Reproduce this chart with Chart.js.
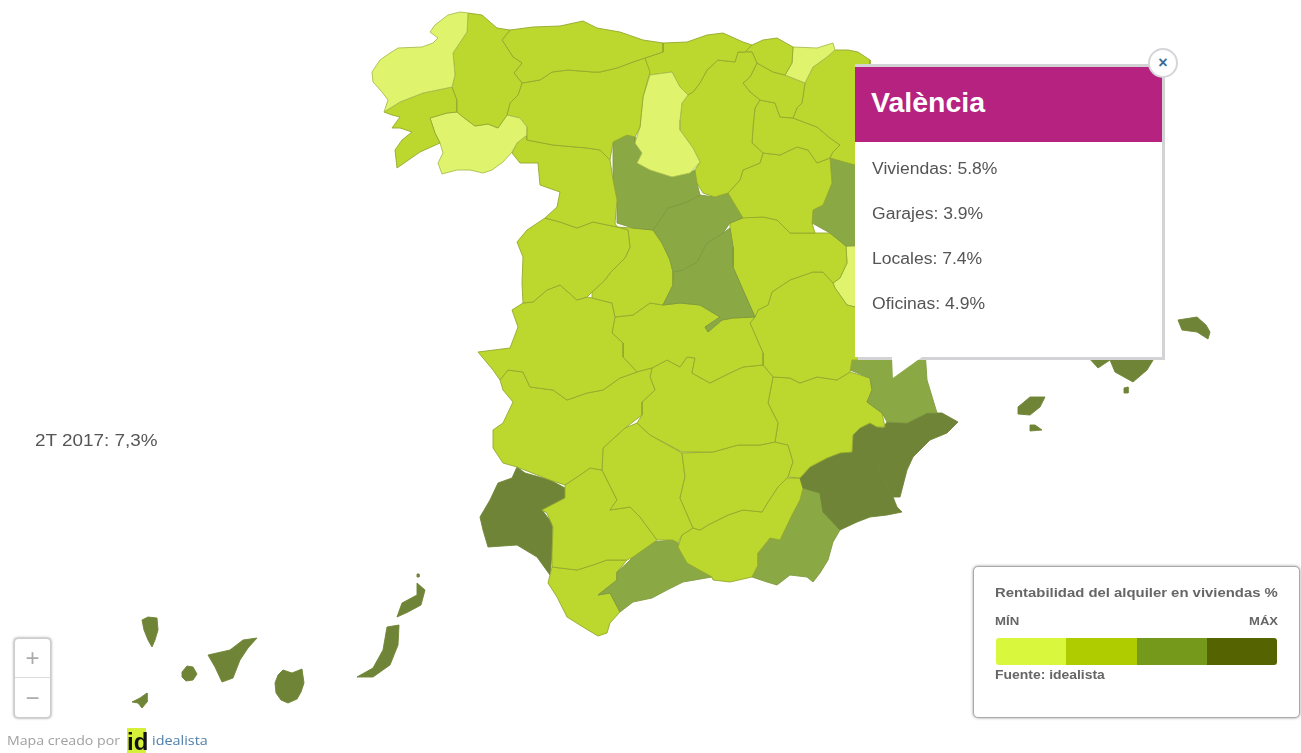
<!DOCTYPE html>
<html><head><meta charset="utf-8">
<script src="https://cdn.jsdelivr.net/npm/chart.js@4/dist/chart.umd.min.js"></script>
<style>
html,body{margin:0;padding:0;background:#fff;width:1301px;height:753px;overflow:hidden;font-family:"Liberation Sans",Arial,sans-serif}
#c{position:absolute;left:0;top:0;filter:blur(.4px)}
.a{position:absolute;white-space:nowrap;transform-origin:left center}
</style></head><body>
<canvas id="c" width="1301" height="753"></canvas>
<div id="ui"></div>
<script>
/* Colour bands of the legend */
const bandNames=["min","low","high","max"];
const bandFill=["#dff46c","#bcd82f","#8aa944","#6f8436"];
const bandLine=["#a9bd4e","#93a92d","#7f9a3e","#6f8436"];
const legendColors=["#d9f73c","#afcc00","#74991b","#556400"];
const legendTitle="Rentabilidad del alquiler en viviendas %";
const popupTitle="València";
const popupLines=["Viviendas: 5.8%","Garajes: 3.9%","Locales: 7.4%","Oficinas: 4.9%"];
const periodLabel="2T 2017: 7,3%";

/* Province outlines in map units */
const coruna=[[468,13],[460,12],[448,15],[435,25],[430,32],[438,38],[433,43],[422,47],[398,48],[390,53],[380,60],[372,72],[373,82],[382,92],[388,100],[384,112],[400,102],[423,93],[452,87],[455,75],[453,53],[467,32]];
const lugo=[[468,13],[482,15],[497,28],[510,30],[502,40],[513,57],[522,63],[514,73],[522,83],[518,95],[510,103],[507,115],[498,128],[488,124],[475,126],[463,117],[457,112],[457,100],[452,87],[455,75],[453,53],[467,32]];
const pontevedra=[[452,87],[457,100],[457,112],[447,113],[430,118],[435,133],[440,143],[420,152],[397,168],[395,150],[402,140],[412,132],[400,128],[392,128],[400,117],[392,115],[384,112],[400,102],[423,93]];
const ourense=[[430,118],[447,113],[457,112],[463,117],[475,126],[488,124],[498,128],[507,115],[520,118],[527,127],[527,135],[517,143],[512,152],[503,162],[492,170],[483,173],[470,170],[457,170],[442,174],[438,163],[443,153],[440,143],[435,133]];
const asturias=[[510,30],[533,27],[560,26],[583,21],[597,28],[620,32],[643,40],[663,43],[663,52],[645,58],[633,62],[617,68],[600,72],[593,72],[568,70],[552,72],[540,80],[522,83],[514,73],[522,63],[513,57],[502,40]];
const leon=[[522,83],[540,80],[552,72],[568,70],[593,72],[600,72],[617,68],[633,62],[645,58],[650,72],[643,97],[640,127],[635,137],[627,135],[613,142],[610,160],[600,150],[587,148],[553,145],[527,140],[527,127],[520,118],[507,115],[510,103],[518,95]];
const palencia=[[650,75],[672,72],[680,87],[688,95],[682,103],[680,120],[680,130],[693,148],[700,162],[690,173],[672,177],[650,170],[637,163],[642,153],[635,143],[640,127],[643,97]];
const zamora=[[527,140],[553,145],[587,148],[600,150],[610,160],[613,180],[617,200],[615,223],[617,227],[593,222],[577,228],[560,222],[545,218],[557,207],[560,192],[540,185],[538,163],[520,163],[512,153],[517,143],[527,135]];
const cantabria=[[663,43],[687,42],[707,35],[723,33],[743,42],[752,45],[745,52],[738,52],[735,62],[718,60],[707,70],[700,83],[693,92],[688,95],[680,87],[672,72],[650,75],[645,58],[663,52]];
const burgos=[[735,62],[738,52],[745,52],[752,52],[757,63],[750,77],[743,83],[750,92],[760,100],[755,108],[753,127],[752,143],[763,153],[760,163],[743,170],[740,180],[728,193],[715,197],[703,193],[697,183],[695,170],[700,162],[693,148],[680,130],[680,120],[682,103],[688,95],[693,92],[700,83],[707,70],[718,60]];
const bizkaia=[[752,45],[763,40],[777,38],[793,47],[792,63],[785,75],[773,72],[757,63],[752,52],[745,52]];
const gipuzkoa=[[793,47],[817,48],[833,43],[835,50],[827,57],[813,67],[805,83],[785,75],[792,63]];
const alava=[[757,63],[773,72],[785,75],[805,83],[802,103],[797,108],[793,118],[780,117],[775,103],[760,100],[750,92],[743,83],[750,77]];
const navarra=[[835,50],[848,50],[858,52],[870,60],[870,165],[855,165],[830,158],[833,152],[840,145],[830,138],[817,127],[793,118],[797,108],[802,103],[805,83],[813,67],[827,57]];
const rioja=[[755,108],[760,100],[775,103],[780,117],[793,118],[817,127],[830,138],[840,145],[833,152],[830,158],[817,163],[808,150],[797,147],[780,155],[763,153],[752,143],[753,127]];
const soria=[[763,153],[780,155],[797,147],[808,150],[817,163],[830,158],[832,183],[823,205],[813,210],[812,223],[815,233],[790,233],[777,220],[763,217],[743,218],[737,208],[728,193],[740,180],[743,170],[760,163]];
const zaragoza=[[830,158],[855,165],[870,165],[870,245],[846,246],[830,233],[812,223],[813,210],[823,205],[832,183]];
const valladolid=[[613,142],[627,135],[635,137],[635,143],[642,153],[637,163],[650,170],[672,177],[690,173],[695,170],[697,183],[700,195],[687,202],[668,208],[662,217],[653,230],[633,228],[617,223],[617,200],[613,180]];
const segovia=[[700,195],[715,197],[728,193],[737,208],[745,217],[730,223],[723,233],[707,243],[697,262],[683,270],[673,272],[670,260],[662,243],[653,230],[662,217],[668,208],[687,202]];
const madrid=[[723,233],[730,228],[733,247],[733,267],[743,290],[755,317],[733,318],[722,320],[708,332],[705,327],[720,317],[700,305],[680,303],[663,305],[673,285],[673,272],[683,270],[697,262],[707,243]];
const salamanca=[[545,218],[560,222],[577,228],[593,222],[617,227],[628,230],[630,247],[625,258],[610,273],[605,280],[592,292],[587,297],[577,300],[560,285],[547,290],[533,302],[523,303],[522,283],[523,257],[517,242],[527,230]];
const avila=[[628,230],[617,227],[633,228],[653,230],[662,243],[670,260],[673,272],[673,285],[663,305],[650,303],[633,315],[615,317],[612,303],[592,298],[592,292],[605,280],[610,273],[625,258],[630,247]];
const caceres=[[523,303],[533,302],[547,290],[560,285],[577,300],[587,297],[592,298],[612,303],[615,317],[612,333],[623,343],[623,357],[637,372],[620,378],[603,390],[587,393],[567,400],[553,390],[530,387],[523,372],[508,370],[500,380],[493,370],[478,352],[510,348],[518,327],[512,310]];
const badajoz=[[500,380],[508,370],[523,372],[530,387],[553,390],[567,400],[587,393],[603,390],[620,378],[637,372],[652,368],[650,377],[655,390],[642,402],[642,415],[625,428],[603,448],[602,470],[590,468],[580,475],[565,485],[550,480],[517,467],[503,463],[493,448],[493,430],[503,423],[513,402],[503,390]];
const toledo=[[615,317],[633,315],[650,303],[663,305],[680,303],[700,305],[720,317],[705,327],[708,332],[722,320],[733,318],[755,317],[750,323],[763,353],[763,365],[743,367],[730,373],[710,383],[692,373],[695,358],[687,357],[680,367],[667,360],[652,368],[637,372],[623,357],[623,343],[612,333]];
const ciudadReal=[[652,368],[667,360],[680,367],[687,357],[695,358],[692,373],[710,383],[730,373],[743,367],[763,365],[773,377],[768,403],[778,423],[775,442],[760,445],[738,445],[713,452],[682,452],[650,435],[637,423],[642,415],[642,402],[655,390],[650,377]];
const guadalajara=[[730,223],[745,217],[763,217],[777,220],[790,233],[815,233],[830,233],[846,246],[847,263],[840,278],[833,283],[823,272],[813,272],[790,280],[772,292],[768,305],[758,310],[755,317],[743,290],[733,267],[733,247],[730,228]];
const cuenca=[[755,317],[758,310],[768,305],[772,292],[790,280],[813,272],[823,272],[833,283],[835,288],[847,305],[855,307],[870,307],[870,360],[852,360],[850,372],[837,380],[817,377],[800,383],[790,378],[773,377],[763,365],[763,353],[750,323]];
const teruel=[[846,246],[870,246],[870,307],[855,307],[847,305],[835,288],[833,283],[840,278],[847,263]];
const valencia=[[852,350],[925,350],[927,380],[937,413],[927,413],[907,423],[887,422],[882,413],[867,402],[872,390],[870,378],[850,370]];
const alicante=[[883,428],[887,422],[907,423],[927,413],[942,413],[958,422],[947,433],[930,440],[913,457],[907,470],[900,497],[893,497],[880,473],[877,443]];
const murcia=[[800,478],[810,467],[827,458],[840,453],[852,452],[853,435],[860,428],[870,423],[877,427],[883,428],[877,443],[880,473],[893,497],[897,507],[902,512],[887,515],[870,517],[857,522],[840,530],[823,512],[820,493],[803,488]];
const albacete=[[773,377],[790,378],[800,383],[817,377],[837,380],[850,372],[870,378],[872,390],[867,402],[882,413],[885,427],[877,427],[870,423],[860,428],[853,435],[852,452],[840,453],[827,458],[810,467],[800,478],[788,477],[793,462],[788,445],[775,442],[778,423],[768,403]];
const jaen=[[682,453],[713,452],[738,445],[760,445],[775,442],[788,445],[793,462],[788,477],[778,487],[768,502],[762,512],[743,510],[728,515],[708,525],[700,530],[693,528],[680,498],[685,477]];
const cordoba=[[637,423],[650,435],[682,453],[685,477],[680,498],[693,528],[682,535],[678,543],[673,540],[657,540],[640,517],[630,507],[610,510],[617,500],[602,470],[603,448],[625,428]];
const granada=[[693,528],[700,530],[708,525],[728,515],[743,510],[762,512],[768,502],[778,487],[787,478],[800,478],[803,488],[800,500],[792,515],[780,540],[770,538],[758,553],[758,565],[752,577],[730,582],[713,580],[712,577],[687,563],[678,547],[682,535]];
const almeria=[[803,488],[820,493],[823,512],[840,530],[833,542],[828,560],[820,573],[813,582],[807,577],[790,575],[777,585],[767,582],[752,577],[758,565],[758,553],[770,538],[780,540],[792,515],[800,500]];
const malaga=[[678,543],[687,563],[712,577],[683,582],[667,590],[652,598],[633,602],[620,612],[610,593],[598,595],[617,580],[617,572],[627,563],[633,557],[653,542],[672,540]];
const cadiz=[[550,575],[552,567],[577,570],[593,565],[607,560],[627,560],[617,572],[617,580],[598,595],[610,593],[620,612],[610,623],[607,633],[598,636],[583,627],[567,617],[557,597],[548,583]];
const sevilla=[[565,485],[580,475],[590,468],[602,470],[617,500],[610,510],[630,507],[640,517],[657,540],[633,557],[627,560],[607,560],[593,565],[577,570],[552,567],[552,553],[553,527],[547,513],[542,510],[565,498]];
const huelva=[[517,467],[525,473],[550,480],[565,488],[565,498],[542,510],[552,523],[552,553],[550,575],[537,557],[517,545],[488,547],[483,530],[480,517],[490,500],[498,483],[512,478]];
const laPalma=[[142,620],[148,617],[157,618],[158,630],[155,640],[152,647],[148,640],[144,630]];
const gomera=[[182,672],[187,666],[193,667],[197,674],[193,680],[186,681],[182,677]];
const tenerife=[[208,655],[230,650],[243,640],[257,638],[248,648],[240,660],[233,678],[222,682],[215,667]];
const hierro=[[132,702],[140,698],[147,693],[147,702],[142,708],[138,703]];
const granCanaria=[[283,670],[292,673],[302,669],[304,683],[301,692],[297,699],[288,703],[281,700],[276,693],[275,683],[278,675]];
const fuerteventura=[[387,627],[399,625],[398,645],[390,665],[373,677],[357,677],[373,668],[383,650]];
const lanzarote=[[397,617],[402,603],[417,595],[417,583],[425,590],[421,605],[408,612]];
const graciosa=[[417,574],[419,574],[419,577],[417,577]];
const mallorca=[[1088,340],[1155,340],[1155,357],[1147,370],[1133,382],[1115,372],[1110,360],[1098,368],[1088,357]];
const cabrera=[[1124,388],[1128,387],[1128,393],[1124,393]];
const menorca=[[1178,320],[1197,317],[1206,325],[1210,332],[1208,339],[1197,332],[1182,330]];
const ibiza=[[1018,407],[1030,397],[1045,397],[1040,407],[1030,415],[1018,414]];
const formentera=[[1030,425],[1035,425],[1042,430],[1030,431]];
const seam=[[517,243],[855,243]];

const provinces=[
[coruna,0],[lugo,1],[pontevedra,1],[ourense,0],[asturias,1],[leon,1],[palencia,0],[zamora,1],[cantabria,1],[burgos,1],[bizkaia,1],[gipuzkoa,0],[alava,1],[navarra,1],[rioja,1],[soria,1],[zaragoza,2],[valladolid,2],[segovia,2],[madrid,2],[salamanca,1],[avila,1],[caceres,1],[badajoz,1],[toledo,1],[ciudadReal,1],[guadalajara,1],[cuenca,1],[teruel,0],[valencia,2],[albacete,1],[alicante,3],[murcia,3],[jaen,1],[cordoba,1],[granada,1],[almeria,2],[sevilla,1],[malaga,2],[cadiz,1],[huelva,3],[laPalma,3],[gomera,3],[tenerife,3],[hierro,3],[granCanaria,3],[fuerteventura,3],[lanzarote,3],[graciosa,3],[mallorca,3],[cabrera,3],[menorca,3],[ibiza,3],[formentera,3]
];
const toPts=a=>a.concat([a[0]]).map(p=>({x:p[0],y:p[1]}));
const datasets=provinces.map(([poly,b])=>({data:toPts(poly),showLine:true,fill:'shape',backgroundColor:bandFill[b],borderColor:bandLine[b],borderWidth:.9,pointRadius:0,tension:0}));
datasets.push({data:seam.map(p=>({x:p[0],y:p[1]})),showLine:true,fill:false,borderColor:"#fdfde8",borderWidth:1.5,pointRadius:0});
new Chart(document.getElementById('c'),{type:'scatter',data:{datasets},options:{responsive:false,animation:false,layout:{padding:0},events:[],
 plugins:{legend:{display:false},tooltip:{enabled:false}},
 scales:{x:{type:'linear',min:0,max:1301,display:false},y:{type:'linear',min:0,max:753,reverse:true,display:false}}}});

/* Page furniture */
let h='';
h+=`<div class="a" style="left:35px;top:432px;font-size:16px;line-height:18px;color:#555;transform:scaleX(1.18)">${periodLabel}</div>`;
/* popup */
h+=`<div class="a" style="left:855px;top:67px;width:307px;height:290px;background:#fff;box-shadow:3px 3px 0 #d3d3d6,0 -3px 0 #d3d3d6"></div>`;
h+=`<div class="a" style="left:855px;top:67px;width:307px;height:75px;background:#b5227f"></div>`;
h+=`<div class="a" style="left:871px;top:87px;font-size:27px;line-height:32px;font-weight:bold;color:#fff;transform:scaleX(1.055)">${popupTitle}</div>`;
popupLines.forEach((t,i)=>{h+=`<div class="a" style="left:872px;top:${160+i*45}px;font-size:16px;line-height:18px;color:#555;transform:scaleX(1.096)">${t}</div>`});
h+=`<div class="a" style="left:892px;top:357px;width:30px;height:21px;background:#fff;clip-path:polygon(0 0,100% 0,3% 100%)"></div>`;
h+=`<div class="a" style="left:1148px;top:48px;width:26px;height:26px;border:2px solid #d5d5da;border-radius:50%;background:#fff;text-align:center;font-size:16px;line-height:26px;font-weight:bold;color:#3b6a96">×</div>`;
/* legend */
h+=`<div class="a" style="left:973px;top:566px;width:325px;height:150px;background:#fff;border:1px solid #aaa;border-radius:5px;box-shadow:0 0 3px #999"></div>`;
h+=`<div class="a" style="left:995px;top:586px;font-size:12px;line-height:14px;font-weight:bold;color:#666;transform:scaleX(1.24)">${legendTitle}</div>`;
h+=`<div class="a" style="left:995px;top:615px;font-size:11px;line-height:13px;color:#666;font-weight:bold;transform:scaleX(1.2)">MÍN</div>`;
h+=`<div class="a" style="left:1249px;top:615px;font-size:11px;line-height:13px;color:#666;font-weight:bold;transform:scaleX(1.19)">MÁX</div>`;
const sw=70.25;
legendColors.forEach((c,i)=>{h+=`<div class="a" style="left:${996+i*sw}px;top:638px;width:${sw}px;height:27px;background:${c};${i==0?'border-radius:3px 0 0 3px;':''}${i==3?'border-radius:0 3px 3px 0;':''}"></div>`});
h+=`<div class="a" style="left:995px;top:668px;font-size:12px;line-height:15px;color:#666;font-weight:bold;transform:scaleX(1.16)">Fuente: idealista</div>`;
/* zoom */
h+=`<div class="a" style="left:14px;top:638px;width:35px;height:78px;background:#fff;border:1px solid #ccc;border-radius:4px;box-shadow:0 0 3px #888"></div>`;
h+=`<div class="a" style="left:15px;top:677px;width:35px;height:1px;background:#ddd"></div>`;
h+=`<div class="a" style="left:14px;top:645px;width:37px;text-align:center;font-size:24px;line-height:26px;color:#aaa">+</div>`;
h+=`<div class="a" style="left:14px;top:685px;width:37px;text-align:center;font-size:24px;line-height:26px;color:#aaa">−</div>`;
/* footer */
h+=`<div class="a" style="left:7px;top:733px;font-family:'Open Sans';font-size:12px;line-height:16px;color:#a0a0a0;transform:scaleX(1.18)">Mapa creado por</div>`;
h+=`<div class="a" style="left:127px;top:728px;width:19px;height:25px;background:#d6f03a"></div>`;
h+=`<div class="a" style="left:127px;top:730px;width:19px;text-align:center;font-weight:bold;font-size:24px;line-height:24px;color:#111">id</div>`;
h+=`<div class="a" style="left:152px;top:733px;font-family:'Open Sans';font-size:12px;line-height:16px;color:#4d7ea8;transform:scaleX(1.2)">idealista</div>`;
document.getElementById('ui').innerHTML=h;
</script></body></html>
